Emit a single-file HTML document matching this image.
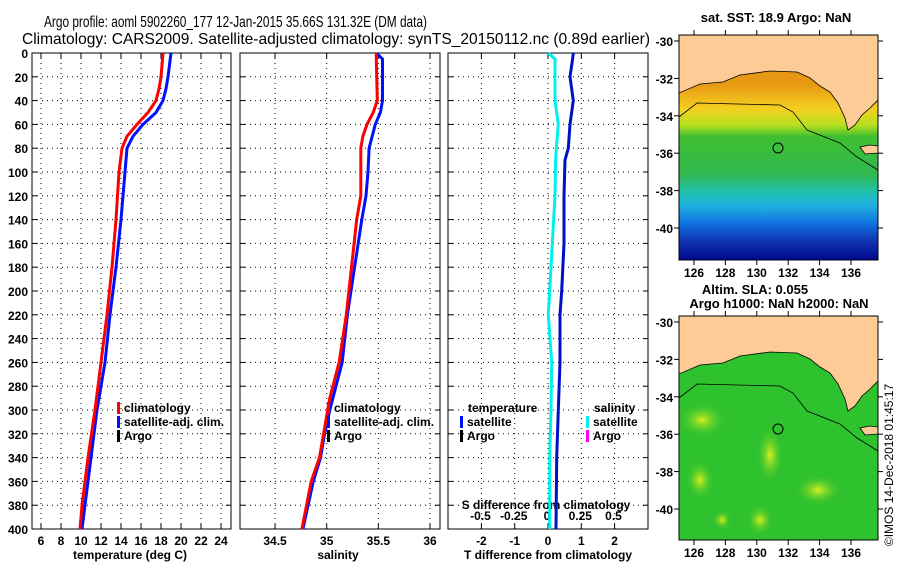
<!DOCTYPE html>
<html><head><meta charset="utf-8"><style>
html,body{margin:0;padding:0;background:#fff;}
svg{display:block;font-family:"Liberation Sans",sans-serif;}
.t{font-size:12px;font-weight:bold;}
.tt{font-size:13px;font-weight:bold;}
</style></head><body>
<svg id="c" width="900" height="580" viewBox="0 0 900 580">
<defs>
<linearGradient id="sst" x1="0" y1="0" x2="0" y2="1">
<stop offset="0" stop-color="#e08a10"/><stop offset="0.22" stop-color="#e89a14"/>
<stop offset="0.33" stop-color="#f4d020"/><stop offset="0.4" stop-color="#b8e020"/>
<stop offset="0.45" stop-color="#40c030"/><stop offset="0.62" stop-color="#30b850"/>
<stop offset="0.7" stop-color="#20c0b0"/><stop offset="0.76" stop-color="#20b0e0"/>
<stop offset="0.84" stop-color="#1070e0"/><stop offset="0.92" stop-color="#1030b0"/>
<stop offset="1" stop-color="#000890"/></linearGradient>
<radialGradient id="blob"><stop offset="0" stop-color="#d8f020"/><stop offset="1" stop-color="#30c030" stop-opacity="0"/></radialGradient>
<clipPath id="m1"><rect x="679" y="35" width="199" height="225"/></clipPath>
<clipPath id="m2"><rect x="679" y="316" width="199" height="224"/></clipPath>
</defs>
<text x="44" y="27" font-size="16" textLength="383" lengthAdjust="spacingAndGlyphs">Argo profile: aoml 5902260_177 12-Jan-2015 35.66S 131.32E (DM data)</text>
<text x="22" y="44" font-size="16" textLength="628" lengthAdjust="spacingAndGlyphs">Climatology: CARS2009. Satellite-adjusted climatology: synTS_20150112.nc (0.89d earlier)</text>
<g id="panels"></g>
<g>
<text x="776" y="22" class="tt" text-anchor="middle">sat. SST: 18.9 Argo: NaN</text>
<g clip-path="url(#m1)">
<rect x="679" y="35" width="199" height="225" fill="url(#sst)"/>
<polygon points="679,35 878,35 878,100 870,108 862,115 855,125 848,130 845,118 838,103 830,92 820,86 810,78 797,72 770,71 740,75 723,82 700,84 679,93" fill="#fccb96" stroke="#000" stroke-width="0.8"/>
<polygon points="860,147 870,145 878,146 878,153 865,154" fill="#fccb96" stroke="#000" stroke-width="0.8"/>
<polyline points="679,117 697,103 780,105 793,112 807,130 840,143 857,157 878,170" fill="none" stroke="#000" stroke-width="0.8"/>
<circle cx="778" cy="148" r="5" fill="none" stroke="#000"/>
</g>
<rect x="679" y="35" width="199" height="225" fill="none" stroke="#000"/>
</g>
<g>
<text x="755" y="294" class="tt" text-anchor="middle">Altim. SLA: 0.055</text>
<text x="779" y="308" class="tt" text-anchor="middle">Argo h1000: NaN h2000: NaN</text>
<g clip-path="url(#m2)">
<rect x="679" y="316" width="199" height="224" fill="#2ec22e"/>
<ellipse cx="702" cy="420" rx="25" ry="18" fill="url(#blob)"/>
<ellipse cx="770" cy="455" rx="14" ry="30" fill="url(#blob)"/>
<ellipse cx="818" cy="490" rx="25" ry="16" fill="url(#blob)"/>
<ellipse cx="700" cy="480" rx="15" ry="20" fill="url(#blob)"/>
<ellipse cx="760" cy="520" rx="14" ry="16" fill="url(#blob)"/>
<ellipse cx="722" cy="520" rx="10" ry="10" fill="url(#blob)"/>
<g transform="translate(0,281)">
<polygon points="679,35 878,35 878,100 870,108 862,115 855,125 848,130 845,118 838,103 830,92 820,86 810,78 797,72 770,71 740,75 723,82 700,84 679,93" fill="#fccb96" stroke="#000" stroke-width="0.8"/>
<polygon points="860,147 870,145 878,146 878,153 865,154" fill="#fccb96" stroke="#000" stroke-width="0.8"/>
<polyline points="679,117 697,103 780,105 793,112 807,130 840,143 857,157 878,170" fill="none" stroke="#000" stroke-width="0.8"/>
<circle cx="778" cy="148" r="5" fill="none" stroke="#000"/>
</g>
</g>
<rect x="679" y="316" width="199" height="224" fill="none" stroke="#000"/>
</g>
<text transform="translate(893,465) rotate(-90)" font-size="12" text-anchor="middle">©IMOS 14-Dec-2018 01:45:17</text>
</svg>
<script>
var depth=[0,20,30,40,50,60,70,80,100,140,180,220,260,300,340,380,400];
var tempClim=[18.2,18.0,17.8,17.5,16.7,15.6,14.6,14.1,13.8,13.5,13.1,12.6,12.0,11.4,10.7,10.1,9.9];
var tempSat=[19.0,18.7,18.5,18.2,17.5,16.2,15.2,14.6,14.4,14.0,13.5,12.9,12.4,11.6,11.0,10.4,10.1];
var salDepth=[0,5,40,50,60,70,80,100,120,140,180,220,260,290,300,320,340,360,400];
var salClim=[35.48,35.48,35.49,35.45,35.39,35.35,35.33,35.33,35.33,35.29,35.24,35.19,35.12,35.03,35.01,34.97,34.93,34.85,34.76];
var salSat=[35.48,35.54,35.54,35.52,35.47,35.44,35.41,35.40,35.38,35.34,35.27,35.20,35.15,35.06,35.03,34.98,34.94,34.87,34.77];
var dDepth=[0,5,20,40,60,80,90,120,160,200,220,260,300,340,400];
var tDiffSat=[0.76,0.74,0.66,0.76,0.66,0.61,0.51,0.48,0.48,0.41,0.36,0.36,0.31,0.26,0.24];
var sDiffSat=[0.01,0.06,0.06,0.06,0.085,0.07,0.065,0.06,0.04,0.02,0.01,0.035,0.03,0.02,0.02];
var depthTicks=[0,20,40,60,80,100,120,140,160,180,200,220,240,260,280,300,320,340,360,380,400];
var tempTicks=[6,8,10,12,14,16,18,20,22,24];
var salTicks=[34.5,35,35.5,36];
var tdTicks=[-2,-1,0,1,2];
var sdTicks=[-0.5,-0.25,0,0.25,0.5];
var latTicks=[-30,-32,-34,-36,-38,-40];
var lonTicks=[126,128,130,132,134,136];

var NS='http://www.w3.org/2000/svg';
var G=document.getElementById('panels');
function el(tag,a,p){var e=document.createElementNS(NS,tag);for(var k in a)e.setAttribute(k,a[k]);(p||G).appendChild(e);return e;}
var Y0=53,Y1=529;
function yD(d){return Y0+d*(Y1-Y0)/400;}
function xT(t){return 41+(t-6)*10;}
function xS(s){return 326.7+(s-35)*103.3;}
function xTD(v){return 548+v*33.3;}
function xSD(v){return 547+v*133;}
var panels=[[32,231,'temperature-panel'],[240,440,'salinity-panel'],[448,648,'difference-panel']];
panels.forEach(function(p){
  var r=el('rect',{x:p[0],y:Y0,width:p[1]-p[0],height:Y1-Y0,fill:'#fff',stroke:'#000'});
  
  
  depthTicks.forEach(function(d){
    if(d>0&&d<400)el('line',{x1:p[0],x2:p[1],y1:yD(d),y2:yD(d),stroke:'#000','stroke-dasharray':'1,4'});
    el('line',{x1:p[0],x2:p[0]+5,y1:yD(d),y2:yD(d),stroke:'#000'});
    el('line',{x1:p[1]-5,x2:p[1],y1:yD(d),y2:yD(d),stroke:'#000'});
  });
});
depthTicks.forEach(function(d){
  var t=el('text',{x:28,y:yD(d)+5,'text-anchor':'end','class':'t'});t.textContent=d;
  
  
});
function xgrid(ticks,fx,ly){
  ticks.forEach(function(v){var x=fx(v);
    el('line',{x1:x,x2:x,y1:Y0,y2:Y1,stroke:'#000','stroke-dasharray':'1,4'});
    el('line',{x1:x,x2:x,y1:Y0,y2:Y0+5,stroke:'#000'});el('line',{x1:x,x2:x,y1:Y1-5,y2:Y1,stroke:'#000'});
    var t=el('text',{x:x,y:ly,'text-anchor':'middle','class':'t'});t.textContent=v;
    
    
  });
}
xgrid(tempTicks,xT,545);
xgrid(salTicks,xS,545);
xgrid(tdTicks,xTD,545);
sdTicks.forEach(function(v){var t=el('text',{x:xSD(v),y:520,'text-anchor':'middle','class':'t'});t.textContent=v;
  
  });
function lbl(x,y,s,name,anchor){var t=el('text',{x:x,y:y,'class':'t','text-anchor':anchor||'start'});t.textContent=s;
  
  return t;}
lbl(130,559,'temperature (deg C)','temperature-axis-title','middle');
lbl(338,559,'salinity','salinity-axis-title','middle');
lbl(548,559,'T difference from climatology','t-diff-axis-title','middle');
lbl(546,509,'S difference from climatology','s-diff-axis-title','middle');
function line(ds,vs,fx,col,name){
  var pts=ds.map(function(d,i){return fx(vs[i]).toFixed(1)+','+yD(d).toFixed(1);}).join(' ');
  var l=el('polyline',{points:pts,fill:'none',stroke:col,'stroke-width':3});
  
  
}
line(depth,tempSat,xT,'#0010ff','temp-satellite-line');
line(depth,tempClim,xT,'#ff0000','temp-climatology-line');
line(salDepth,salSat,xS,'#0010ff','salinity-satellite-line');
line(salDepth,salClim,xS,'#ff0000','salinity-climatology-line');
line(dDepth,sDiffSat,xSD,'#00f0f0','s-diff-satellite-line');
line(dDepth,tDiffSat,xTD,'#0010c8','t-diff-satellite-line');
function leg(x,y,col,s,name){el('rect',{x:x,y:y-10,width:3,height:12,fill:col});lbl(x+7,y,s,name);}
leg(117,412,'#ff0000','climatology','legend-climatology');
leg(117,426,'#0010ff','satellite-adj. clim.','legend-satellite-adj');
leg(117,440,'#000','Argo','legend-argo');
leg(327,412,'#ff0000','climatology','legend-climatology-2');
leg(327,426,'#0010ff','satellite-adj. clim.','legend-satellite-adj-2');
leg(327,440,'#000','Argo','legend-argo-2');
lbl(468,412,'temperature','legend-temperature-heading');
leg(460,426,'#0010ff','satellite','legend-t-satellite');
leg(460,440,'#000','Argo','legend-t-argo');
lbl(594,412,'salinity','legend-salinity-heading');
leg(586,426,'#00f0f0','satellite','legend-s-satellite');
leg(586,440,'#ff00ff','Argo','legend-s-argo');
var svg=document.getElementById('c');
function mapAxes(top,bot,latY0){
  latTicks.forEach(function(la){var y=latY0+(-30-la)*18.7;
    el('line',{x1:674,x2:679,y1:y,y2:y,stroke:'#000'},svg);el('line',{x1:878,x2:883,y1:y,y2:y,stroke:'#000'},svg);
    var t=el('text',{x:673,y:y+5,'text-anchor':'end','class':'t'},svg);t.textContent=la;
    
    });
  lonTicks.forEach(function(lo){var x=694+(lo-126)*15.7;
    el('line',{x1:x,x2:x,y1:top-5,y2:top,stroke:'#000'},svg);el('line',{x1:x,x2:x,y1:bot,y2:bot+5,stroke:'#000'},svg);
    var t=el('text',{x:x,y:bot+17,'text-anchor':'middle','class':'t'},svg);t.textContent=lo;
    
    });
}
mapAxes(35,260,41);
mapAxes(316,540,322);
</script>
</body></html>
